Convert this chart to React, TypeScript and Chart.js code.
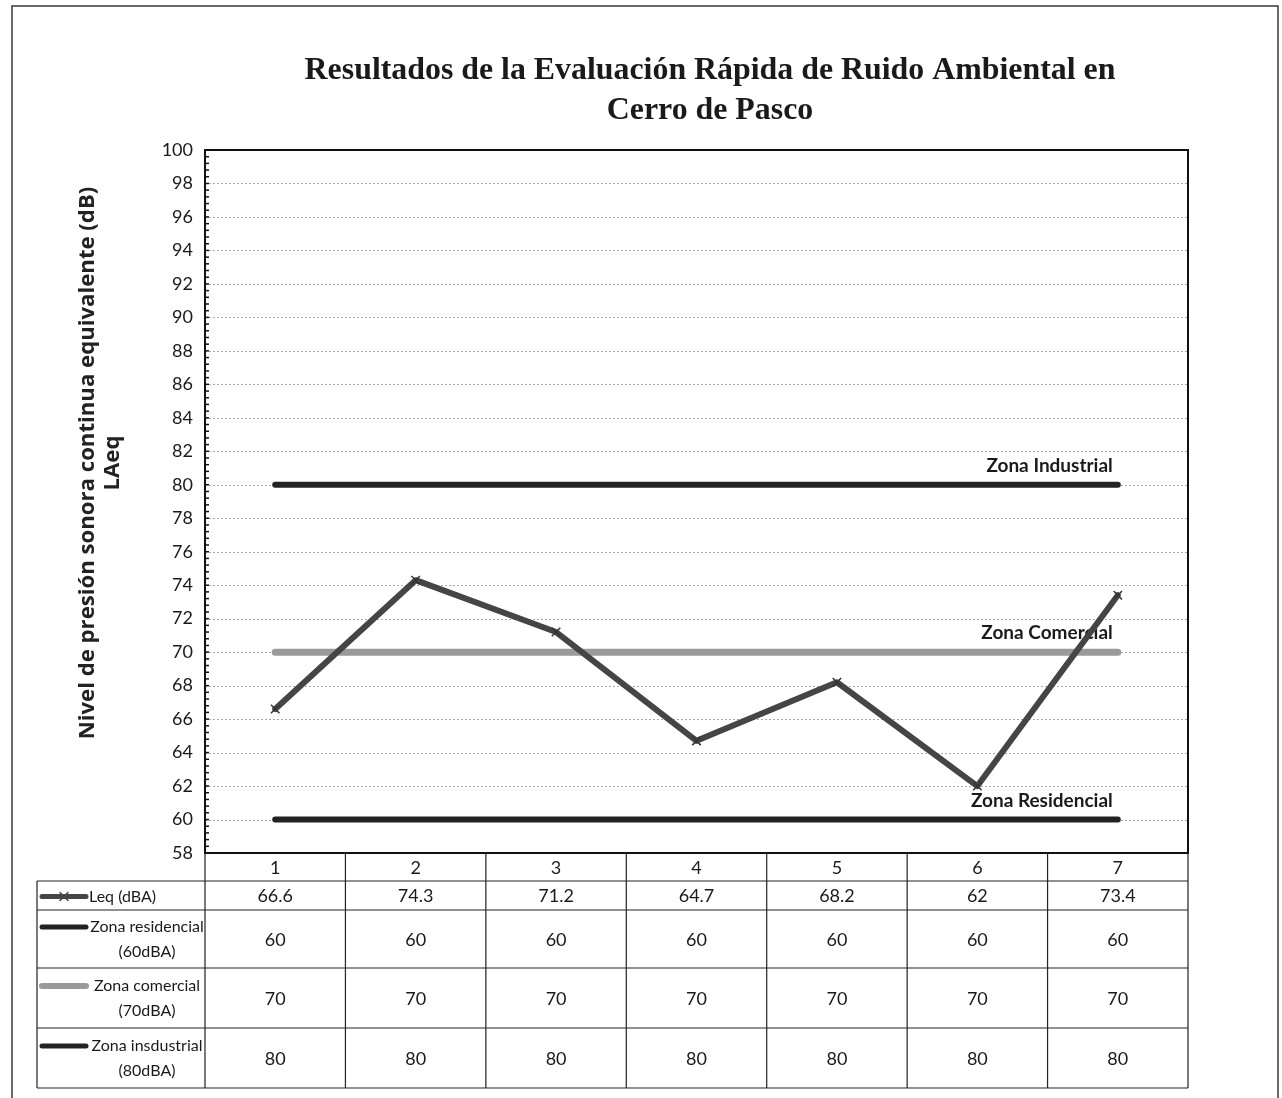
import React, { useEffect, useRef } from "react";
import { Chart, registerables } from "chart.js";

Chart.register(...registerables);

// ---------- data ----------
const categories = ["1", "2", "3", "4", "5", "6", "7"];
const leq = [66.6, 74.3, 71.2, 64.7, 68.2, 62, 73.4];
const zonaResidencial = [60, 60, 60, 60, 60, 60, 60];
const zonaComercial = [70, 70, 70, 70, 70, 70, 70];
const zonaIndustrial = [80, 80, 80, 80, 80, 80, 80];
const yMin = 58;
const yMax = 100;
const yStep = 2;

const titleLines = [
  "Resultados de la Evaluación Rápida de Ruido Ambiental en",
  "Cerro de Pasco",
];
const yTitleLines = ["Nivel de presión sonora continua equivalente (dB)", "LAeq"];
const seriesLegendLabels = [
  ["Leq (dBA)"],
  ["Zona residencial", "(60dBA)"],
  ["Zona comercial", "(70dBA)"],
  ["Zona insdustrial", "(80dBA)"],
];
const zoneLabels = ["Zona Residencial", "Zona Comercial", "Zona Industrial"];

// ---------- styles ----------
const W = 1282;
const H = 1098;
const LEQ_COLOR = "#454545";
const RES_COLOR = "#232323";
const COM_COLOR = "#9a9a9a";
const IND_COLOR = "#232323";
const SANS = "Lato, 'Noto Sans', sans-serif";

const seriesStyles = [
  { color: LEQ_COLOR, width: 6, marker: true },
  { color: RES_COLOR, width: 6, marker: false },
  { color: COM_COLOR, width: 7, marker: false },
  { color: IND_COLOR, width: 6, marker: false },
];
const seriesData = [leq, zonaResidencial, zonaComercial, zonaIndustrial];

// table layout (pixels)
const TABLE_LEFT = 37;
const HEADER_BOTTOM = 881;
const ROW_BOTTOMS = [910, 968, 1028, 1088];

const fmt = (v: number) => String(v);

const customPlugin = {
  id: "customDecor",
  beforeDraw(chart: any) {
    const ctx = chart.ctx as CanvasRenderingContext2D;
    ctx.save();
    ctx.fillStyle = "#ffffff";
    ctx.fillRect(0, 0, W, H);
    // outer frame
    ctx.strokeStyle = "#3a3a3a";
    ctx.lineWidth = 1.5;
    ctx.strokeRect(12, 6, 1266, 1100);

    // title
    ctx.fillStyle = "#1a1a1a";
    ctx.textAlign = "center";
    ctx.textBaseline = "middle";
    ctx.font = "bold 100px 'Liberation Serif', serif";
    const w1 = ctx.measureText(titleLines[0]).width;
    const fs = (811 / w1) * 100;
    ctx.font = `bold ${fs}px 'Liberation Serif', serif`;
    ctx.fillText(titleLines[0], 710, 71);
    ctx.fillText(titleLines[1], 710, 111);

    // y axis title
    ctx.font = "bold 100px 'Open Sans', sans-serif";
    const wy = ctx.measureText(yTitleLines[0]).width;
    const fsy = (553 / wy) * 100;
    ctx.font = `bold ${fsy}px 'Open Sans', sans-serif`;
    ctx.translate(0, 463);
    ctx.rotate(-Math.PI / 2);
    ctx.fillStyle = "#222";
    ctx.fillText(yTitleLines[0], 0, 88);
    ctx.fillText(yTitleLines[1], 0, 113);
    ctx.restore();
  },
  beforeDatasetsDraw(chart: any) {
    const ctx = chart.ctx as CanvasRenderingContext2D;
    const y = chart.scales.y;
    const x = chart.scales.x;
    const area = chart.chartArea;
    ctx.save();
    // dotted grid
    ctx.strokeStyle = "#a8a8a8";
    ctx.lineWidth = 1;
    ctx.setLineDash([2, 2]);
    for (let v = yMin + yStep; v < yMax; v += yStep) {
      const py = Math.round(y.getPixelForValue(v)) + 0.5;
      ctx.beginPath();
      ctx.moveTo(area.left, py);
      ctx.lineTo(area.right, py);
      ctx.stroke();
    }
    ctx.setLineDash([]);
    // zone labels
    ctx.font = `bold 19px ${SANS}`;
    ctx.fillStyle = "#1a1a1a";
    ctx.textAlign = "right";
    ctx.textBaseline = "middle";
    const lastX = x.getPixelForValue(categories.length - 1);
    const zoneVals = [zonaResidencial[6], zonaComercial[6], zonaIndustrial[6]];
    zoneLabels.forEach((lab, i) => {
      ctx.fillText(lab, lastX - 5, y.getPixelForValue(zoneVals[i]) - 19);
    });
    ctx.restore();
  },
  afterDraw(chart: any) {
    const ctx = chart.ctx as CanvasRenderingContext2D;
    const y = chart.scales.y;
    const x = chart.scales.x;
    const area = chart.chartArea;
    ctx.save();
    // plot border
    ctx.strokeStyle = "#111";
    ctx.lineWidth = 2;
    ctx.strokeRect(area.left, area.top, area.right - area.left, area.bottom - area.top);
    // minor ticks
    ctx.lineWidth = 1.5;
    for (let v = yMin; v <= yMax + 1e-6; v += 0.4) {
      const py = y.getPixelForValue(v);
      ctx.beginPath();
      ctx.moveTo(area.left, py);
      ctx.lineTo(area.left + 4, py);
      ctx.stroke();
    }

    // ---------- data table ----------
    const n = categories.length;
    const colW = (area.right - area.left) / n;
    const edges: number[] = [];
    for (let i = 0; i <= n; i++) edges.push(area.left + colW * i);
    ctx.strokeStyle = "#222";
    ctx.lineWidth = 1.2;
    ctx.beginPath();
    ctx.moveTo(area.left, HEADER_BOTTOM);
    ctx.lineTo(area.right, HEADER_BOTTOM);
    edges.forEach((ex) => {
      ctx.moveTo(ex, area.bottom);
      ctx.lineTo(ex, ROW_BOTTOMS[ROW_BOTTOMS.length - 1]);
    });
    ROW_BOTTOMS.forEach((rb) => {
      ctx.moveTo(TABLE_LEFT, rb);
      ctx.lineTo(area.right, rb);
    });
    ctx.moveTo(TABLE_LEFT, HEADER_BOTTOM);
    ctx.lineTo(TABLE_LEFT, ROW_BOTTOMS[ROW_BOTTOMS.length - 1]);
    ctx.moveTo(TABLE_LEFT, HEADER_BOTTOM);
    ctx.lineTo(area.left, HEADER_BOTTOM);
    ctx.stroke();

    ctx.fillStyle = "#1a1a1a";
    ctx.textAlign = "center";
    ctx.textBaseline = "middle";
    ctx.font = `18px ${SANS}`;
    categories.forEach((c, i) => {
      ctx.fillText(c, x.getPixelForValue(i), (area.bottom + HEADER_BOTTOM) / 2 + 1);
    });
    seriesData.forEach((arr, r) => {
      const top = r === 0 ? HEADER_BOTTOM : ROW_BOTTOMS[r - 1];
      const bot = ROW_BOTTOMS[r];
      const cy = (top + bot) / 2 + 1;
      ctx.font = `18px ${SANS}`;
      ctx.textAlign = "center";
      arr.forEach((v, i) => ctx.fillText(fmt(v), x.getPixelForValue(i), cy));
      // legend key
      const st = seriesStyles[r];
      const lines = seriesLegendLabels[r];
      const keyY = lines.length > 1 ? cy - 13 : cy;
      ctx.strokeStyle = st.color;
      ctx.lineWidth = st.width - 1;
      ctx.lineCap = "round";
      ctx.beginPath();
      ctx.moveTo(42, keyY);
      ctx.lineTo(86, keyY);
      ctx.stroke();
      if (st.marker) {
        ctx.lineWidth = 1.5;
        ctx.beginPath();
        ctx.moveTo(60, keyY - 4);
        ctx.lineTo(68, keyY + 4);
        ctx.moveTo(68, keyY - 4);
        ctx.lineTo(60, keyY + 4);
        ctx.stroke();
      }
      ctx.font = `16px ${SANS}`;
      if (lines.length === 1) {
        ctx.textAlign = "left";
        ctx.fillText(lines[0], 89, cy);
      } else {
        ctx.textAlign = "center";
        ctx.fillText(lines[0], 147, cy - 13);
        ctx.fillText(lines[1], 147, cy + 12);
      }
    });
    ctx.restore();
  },
};

export default function App() {
  const ref = useRef<HTMLCanvasElement | null>(null);
  useEffect(() => {
    if (!ref.current) return;
    const chart = new Chart(ref.current, {
      type: "line",
      data: {
        labels: categories,
        datasets: seriesData.map((d, i) => ({
          label: seriesLegendLabels[i].join(" "),
          data: d,
          borderColor: seriesStyles[i].color,
          backgroundColor: seriesStyles[i].color,
          borderWidth: seriesStyles[i].width,
          borderCapStyle: "round" as const,
          borderJoinStyle: "round" as const,
          pointStyle: "crossRot" as const,
          pointRadius: seriesStyles[i].marker ? 6 : 0,
          pointBorderWidth: 1.5,
          pointBorderColor: "#333",
          tension: 0,
        })),
      },
      options: {
        responsive: false,
        animation: false,
        layout: { padding: { left: 135, top: 150, right: 94, bottom: 245 } },
        plugins: {
          legend: { display: false },
          title: { display: false },
          tooltip: { enabled: false },
        },
        scales: {
          x: { display: false, offset: true },
          y: {
            min: yMin,
            max: yMax,
            ticks: {
              stepSize: yStep,
              padding: 12,
              color: "#1a1a1a",
              font: { family: "Lato", size: 18 },
            },
            grid: { display: false, drawTicks: false },
            border: { display: true, color: "#111", width: 2 },
            afterFit: (scale: any) => {
              scale.width = 70;
            },
          },
        },
      },
      plugins: [customPlugin],
    });
    return () => chart.destroy();
  }, []);
  return (
    <div style={{ position: "absolute", left: 0, top: 0, width: W, height: H, background: "#fff" }}>
      <canvas ref={ref} width={W} height={H} style={{ display: "block" }} />
    </div>
  );
}
